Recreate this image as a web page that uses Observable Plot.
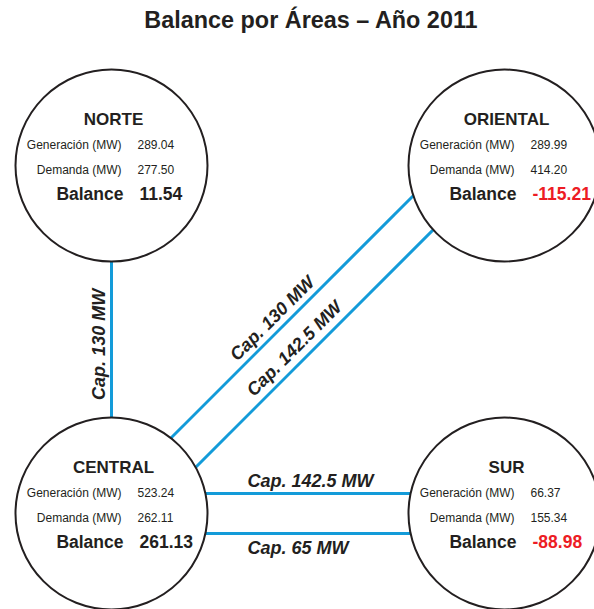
<!DOCTYPE html>
<html>
<head>
<meta charset="utf-8">
<script src="https://cdn.jsdelivr.net/npm/d3@7"></script>
<script src="https://cdn.jsdelivr.net/npm/@observablehq/plot@0.6"></script>
<style>
  html, body { margin: 0; padding: 0; background: #fff; overflow: hidden; }
  #title {
    width: 594px; height: 40px; line-height: 40px; box-sizing: border-box;
    padding-left: 28px; text-align: center;
    font-family: "Liberation Sans", Arial, sans-serif; font-weight: bold; font-size: 23.4px;
    color: #231f20;
  }
</style>
</head>
<body>
<div id="title">Balance por Áreas – Año 2011</div>
<div id="chart"></div>
<script>
// ---- data ----
const areas = ["NORTE", "ORIENTAL", "CENTRAL", "SUR"];
const generacion = [289.04, 289.99, 523.24, 66.37];
const demanda = [277.50, 414.20, 262.11, 155.34];
const balance = [11.54, -115.21, 261.13, -88.98];

const linkFrom = ["NORTE", "CENTRAL", "CENTRAL", "CENTRAL", "CENTRAL"];
const linkTo = ["CENTRAL", "ORIENTAL", "ORIENTAL", "SUR", "SUR"];
const capacidad = [130, 130, 142.5, 142.5, 65];

const rowLabels = ["Generación (MW)", "Demanda (MW)", "Balance"];

// ---- layout (diagram geometry, in page pixels) ----
const W = 594, H = 569, TOP = 40;
const R = 96;
const nodeCenter = {NORTE: [111, 165], ORIENTAL: [504, 165], CENTRAL: [111, 513], SUR: [504, 513]};
// per link: offset of the lane at the "from" end and the "to" end, label position (t along, n normal), anchor
const linkLane = [
  {a: [0, 0],   b: [0, 0],   t: 0.514, n: -12,  anchor: "middle", line: "middle"},
  {a: [0, -16], b: [-61, 0], t: 0.512, n: 12.7, anchor: "middle", line: "middle"},
  {a: [38, 0],  b: [-7, 0],  t: 0.445, n: 14.1, anchor: "middle", line: "middle"},
  {a: [0, -20], b: [0, -20], t: 0.346, n: 7,    anchor: "start",  line: "bottom"},
  {a: [0, 20],  b: [0, 20],  t: 0.346, n: -20,  anchor: "start",  line: "bottom"}
];

const DARK = "#231f20", RED = "#ed1c24", BLUE = "#139bd9";
const FONT = "Liberation Sans, Arial, sans-serif";
const fmt = v => v.toFixed(2);

const nodes = areas.map((a, i) => ({
  area: a, cx: nodeCenter[a][0], cy: nodeCenter[a][1],
  gen: generacion[i], dem: demanda[i], bal: balance[i]
}));

const links = linkFrom.map((f, i) => {
  const L = linkLane[i];
  const x1 = nodeCenter[f][0] + L.a[0], y1 = nodeCenter[f][1] + L.a[1];
  const x2 = nodeCenter[linkTo[i]][0] + L.b[0], y2 = nodeCenter[linkTo[i]][1] + L.b[1];
  const dx = x2 - x1, dy = y2 - y1, len = Math.hypot(dx, dy);
  const ux = dx / len, uy = dy / len;
  const nx = uy, ny = -ux;
  let ang = Math.atan2(dy, dx) * 180 / Math.PI;
  if (ang >= 90) ang -= 180;
  return {
    x1, y1, x2, y2,
    lx: x1 + dx * L.t + nx * L.n, ly: y1 + dy * L.t + ny * L.n,
    rot: ang, anchor: L.anchor, line: L.line,
    label: `Cap. ${capacidad[i]} MW`
  };
});

const linkLabelMarks = links.map(l => Plot.text([l], {
  x: "lx", y: "ly", text: "label", rotate: l.rot,
  textAnchor: l.anchor, lineAnchor: l.line,
  fontSize: 18, fontWeight: "bold", fontStyle: "italic", fill: DARK, fontFamily: FONT
}));

const rowOffsets = [-17, 8, 34];

const chart = Plot.plot({
  width: W, height: H,
  marginTop: 0, marginRight: 0, marginBottom: 0, marginLeft: 0,
  style: {fontFamily: FONT, background: "white", overflow: "visible"},
  x: {domain: [0, W], range: [0, W], axis: null},
  y: {domain: [TOP, TOP + H], range: [0, H], axis: null},
  marks: [
    Plot.link(links, {x1: "x1", y1: "y1", x2: "x2", y2: "y2", stroke: BLUE, strokeWidth: 3}),
    Plot.dot(nodes, {x: "cx", y: "cy", r: R, fill: "white", stroke: DARK, strokeWidth: 2}),
    // area names
    Plot.text(nodes, {x: d => d.cx + 2, y: d => d.cy - 41, text: "area", textAnchor: "middle", lineAnchor: "bottom",
      fontSize: 17, fontWeight: "bold", fill: DARK, fontFamily: FONT}),
    // row labels
    Plot.text(nodes, {x: d => d.cx + 10, y: d => d.cy + rowOffsets[0], text: () => rowLabels[0], textAnchor: "end", lineAnchor: "bottom",
      fontSize: 12, fill: DARK, fontFamily: FONT}),
    Plot.text(nodes, {x: d => d.cx + 10, y: d => d.cy + rowOffsets[1], text: () => rowLabels[1], textAnchor: "end", lineAnchor: "bottom",
      fontSize: 12, fill: DARK, fontFamily: FONT}),
    Plot.text(nodes, {x: d => d.cx + 12, y: d => d.cy + rowOffsets[2], text: () => rowLabels[2], textAnchor: "end", lineAnchor: "bottom",
      fontSize: 17.5, fontWeight: "bold", fill: DARK, fontFamily: FONT}),
    // values
    Plot.text(nodes, {x: d => d.cx + 26, y: d => d.cy + rowOffsets[0], text: d => fmt(d.gen), textAnchor: "start", lineAnchor: "bottom",
      fontSize: 12, fill: DARK, fontFamily: FONT}),
    Plot.text(nodes, {x: d => d.cx + 26, y: d => d.cy + rowOffsets[1], text: d => fmt(d.dem), textAnchor: "start", lineAnchor: "bottom",
      fontSize: 12, fill: DARK, fontFamily: FONT}),
    Plot.text(nodes, {x: d => d.cx + 28, y: d => d.cy + rowOffsets[2], text: d => fmt(d.bal), textAnchor: "start", lineAnchor: "bottom",
      fontSize: 17.5, fontWeight: "bold", fill: d => d.bal < 0 ? RED : DARK, fontFamily: FONT}),
    ...linkLabelMarks
  ]
});

document.getElementById("chart").appendChild(chart);
</script>
</body>
</html>
